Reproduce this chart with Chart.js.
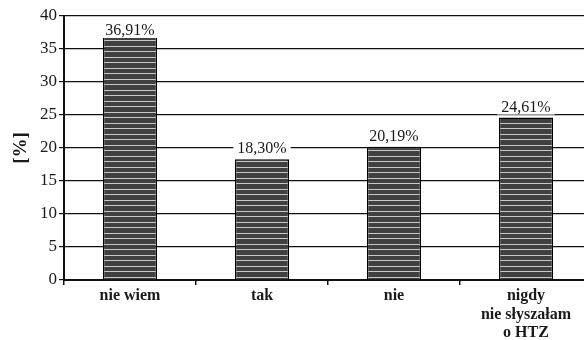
<!DOCTYPE html>
<html>
<head>
<meta charset="utf-8">
<script src="https://cdn.jsdelivr.net/npm/chart.js@4"></script>
<style>
html,body{margin:0;padding:0;background:#fff;overflow:hidden;}
canvas{display:block;}
</style>
</head>
<body>
<canvas id="c" width="600" height="340"></canvas>
<script>
const categories = ['nie wiem', 'tak', 'nie', ['nigdy', 'nie słyszałam', 'o HTZ']];
const values = [36.91, 18.30, 20.19, 24.61];
const yTicks = [0, 5, 10, 15, 20, 25, 30, 35, 40];
const yTitle = '[%]';

function makePattern() {
  const p = document.createElement('canvas');
  p.width = 8; p.height = 11;
  const g = p.getContext('2d');
  g.fillStyle = '#404040';
  g.fillRect(0, 0, 8, 11);
  g.fillStyle = '#c8c8c8';
  g.fillRect(0, 2, 8, 1);
  g.fillRect(0, 7, 8, 1);
  return document.getElementById('c').getContext('2d').createPattern(p, 'repeat');
}

const serif = '"Liberation Serif", "Times New Roman", serif';

const labelPlugin = {
  id: 'valueLabels',
  afterDatasetsDraw(chart) {
    const ctx = chart.ctx;
    const meta = chart.getDatasetMeta(0);
    ctx.save();
    ctx.font = '16px ' + serif;
    ctx.textAlign = 'center';
    ctx.textBaseline = 'middle';
    meta.data.forEach((bar, i) => {
      const txt = values[i].toFixed(2).replace('.', ',') + '%';
      const w = ctx.measureText(txt).width;
      const y = Math.max(bar.y - 11, 30);
      ctx.fillStyle = '#fff';
      ctx.fillRect(bar.x - w / 2 - 4, y - 8, w + 8, 16);
      ctx.fillStyle = '#1a1a1a';
      ctx.fillText(txt, bar.x, y + 1);
    });
    ctx.restore();
  }
};

new Chart(document.getElementById('c'), {
  type: 'bar',
  data: {
    labels: categories,
    datasets: [{
      data: values,
      backgroundColor: makePattern(),
      borderColor: '#000',
      borderWidth: 1.5,
      barPercentage: 0.41,
      categoryPercentage: 1
    }]
  },
  options: {
    responsive: false,
    animation: false,
    devicePixelRatio: 1,
    layout: { padding: { top: 16, right: 8, left: 0, bottom: 0 } },
    plugins: { legend: { display: false }, tooltip: { enabled: false } },
    scales: {
      x: {
        afterFit(s) { s.height = 60; },
        grid: { drawOnChartArea: false, drawTicks: true, tickLength: 5, color: '#111', lineWidth: 1.5, offset: true },
        border: { display: true, color: '#111', width: 2 },
        ticks: { color: '#1a1a1a', font: { family: serif, size: 16, weight: 'bold', lineHeight: 1.15 }, padding: 2, maxRotation: 0, autoSkip: false }
      },
      y: {
        min: 0, max: 40,
        afterFit(s) { s.width = 64; },
        afterBuildTicks(s) { s.ticks = yTicks.map(v => ({ value: v })); },
        grid: { color: '#111', lineWidth: 1.2, tickLength: 5, drawTicks: true },
        border: { display: true, color: '#111', width: 2 },
        ticks: { color: '#1a1a1a', font: { family: serif, size: 17 }, padding: 2 },
        title: { display: true, text: yTitle, color: '#1a1a1a', font: { family: serif, size: 19, weight: 'bold', lineHeight: 1 }, padding: { top: 12, bottom: 0 } }
      }
    }
  },
  plugins: [labelPlugin]
});
</script>
</body>
</html>
